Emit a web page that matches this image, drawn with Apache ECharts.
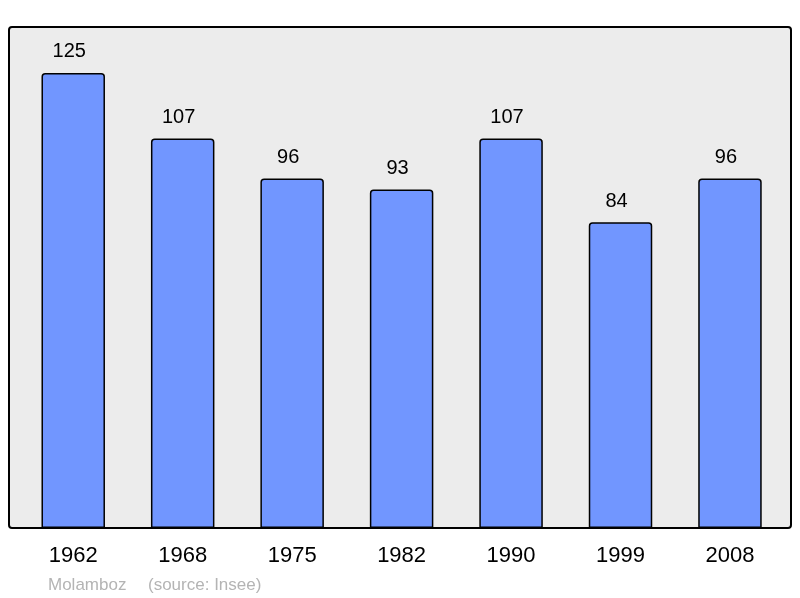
<!DOCTYPE html>
<html>
<head>
<meta charset="utf-8">
<script src="https://cdn.jsdelivr.net/npm/echarts@6/dist/echarts.min.js"></script>
<style>html,body{margin:0;padding:0;background:#fff}#c{width:800px;height:598px}</style>
</head>
<body>
<div id="c"></div>
<script>
const years = ['1962','1968','1975','1982','1990','1999','2008'];
const population = [125,107,96,93,107,84,96];
const footerAuthor = 'Molamboz';
const footerSource = '(source: Insee)';

const chart = echarts.init(document.getElementById('c'), null, {renderer:'canvas'});
chart.setOption({
  animation: false,
  backgroundColor: '#ffffff',
  textStyle: {fontFamily: 'Liberation Sans, Arial, sans-serif'},
  grid: {left: 18.5, right: 15.3, top: 27, bottom: 70, containLabel: false},
  graphic: [
    {type:'rect', z:-10, silent:true, shape:{x:9, y:27, width:782, height:501, r:3},
     style:{fill:'#ececec', stroke:'#000', lineWidth:2}},
    {type:'text', left:48, top:577, silent:true,
     style:{text: footerAuthor, fill:'#b4b4b4', font:'17px "Liberation Sans", Arial, sans-serif'}},
    {type:'text', left:148, top:577, silent:true,
     style:{text: footerSource, fill:'#b4b4b4', font:'17px "Liberation Sans", Arial, sans-serif'}}
  ],
  xAxis: {
    type:'category', data: years,
    axisLine:{show:false}, axisTick:{show:false},
    axisLabel:{color:'#000', fontSize:22, margin:17, fontFamily:'Liberation Sans, Arial, sans-serif'}
  },
  yAxis: {type:'value', min:0, max:137.6, show:false, splitLine:{show:false}},
  series: [{
    type:'bar', data: population, barWidth:'58%',
    itemStyle:{color:'#7196ff', borderColor:'#000', borderWidth:1.5, borderRadius:[3,3,0,0]},
    label:{show:true, position:'top', distance:11, offset:[-4,0], color:'#000', fontSize:20,
           fontFamily:'Liberation Sans, Arial, sans-serif'}
  }]
});
</script>
</body>
</html>
